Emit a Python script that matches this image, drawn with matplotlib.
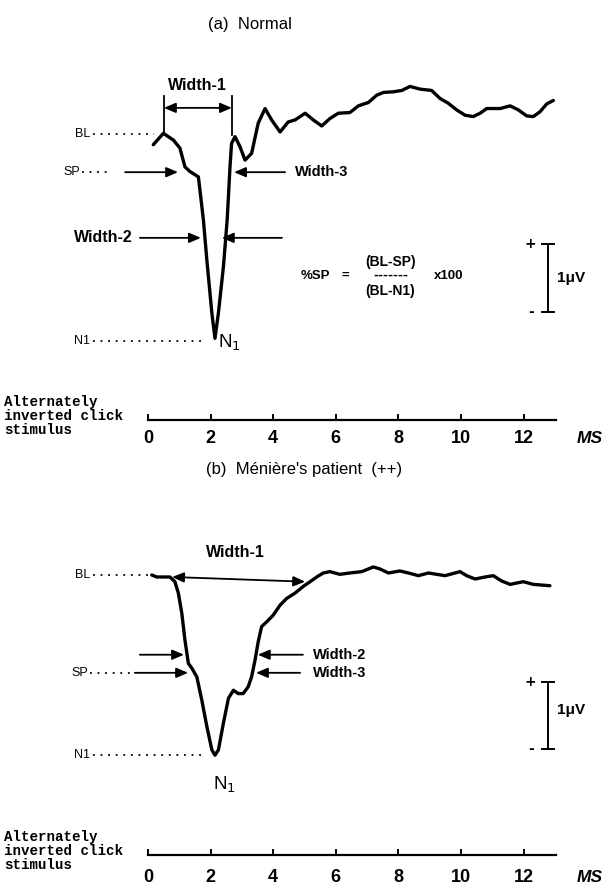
import matplotlib
matplotlib.use("Agg")
import matplotlib.pyplot as plt

# waveform (a) normal: time in ms, amplitude in uV relative to baseline
t_norm = [0.17, 0.49, 0.81, 1.02, 1.18, 1.34, 1.61, 1.66, 1.77, 1.88, 2.04, 2.14,
          2.25, 2.41, 2.53, 2.62, 2.67, 2.78, 2.94, 3.10, 3.31, 3.52, 3.74, 3.95,
          4.22, 4.48, 4.70, 5.02, 5.28, 5.55, 5.81, 6.08, 6.45, 6.72, 7.04, 7.31,
          7.52, 7.84, 8.11, 8.37, 8.69, 9.06, 9.33, 9.59, 9.86, 10.13, 10.39, 10.61,
          10.82, 11.25, 11.57, 11.83, 12.10, 12.31, 12.52, 12.74, 12.95]
v_norm = [-0.16, 0.01, -0.09, -0.21, -0.49, -0.56, -0.64, -0.84, -1.28, -1.88, -2.67, -3.05,
          -2.67, -1.98, -1.28, -0.49, -0.14, -0.04, -0.19, -0.39, -0.29, 0.16, 0.38, 0.21,
          0.03, 0.18, 0.21, 0.31, 0.21, 0.12, 0.23, 0.31, 0.32, 0.42, 0.47, 0.58,
          0.62, 0.63, 0.65, 0.71, 0.67, 0.65, 0.53, 0.46, 0.36, 0.28, 0.26, 0.31,
          0.38, 0.38, 0.42, 0.36, 0.27, 0.26, 0.33, 0.45, 0.50]

# waveform (b) Meniere's patient
t_men = [0.12, 0.28, 0.70, 0.86, 0.97, 1.08, 1.18, 1.29, 1.40, 1.56, 1.72, 1.88,
         2.04, 2.14, 2.25, 2.41, 2.57, 2.73, 2.88, 3.04, 3.20, 3.31, 3.42, 3.52,
         3.63, 3.79, 4.00, 4.22, 4.43, 4.70, 4.96, 5.18, 5.39, 5.60, 5.81, 6.13,
         6.45, 6.83, 7.20, 7.41, 7.68, 8.05, 8.32, 8.64, 8.96, 9.22, 9.49, 9.97,
         10.18, 10.45, 10.77, 11.03, 11.30, 11.57, 11.99, 12.31, 12.84]
v_men = [0.00, -0.03, -0.03, -0.10, -0.27, -0.57, -0.97, -1.32, -1.39, -1.52, -1.87, -2.26,
         -2.61, -2.69, -2.61, -2.21, -1.84, -1.72, -1.77, -1.77, -1.67, -1.52, -1.27, -1.00,
         -0.77, -0.70, -0.60, -0.45, -0.35, -0.27, -0.17, -0.10, -0.03, 0.03, 0.05, 0.01,
         0.03, 0.05, 0.12, 0.09, 0.03, 0.06, 0.03, -0.01, 0.03, 0.01, -0.01, 0.05,
         -0.01, -0.06, -0.03, -0.01, -0.09, -0.14, -0.10, -0.14, -0.16]

ticks = [0, 2, 4, 6, 8, 10, 12]
stim_text = "Alternately\ninverted click\nstimulus"

sans = ["Liberation Sans", "DejaVu Sans"]
narrow = ["Liberation Sans Narrow", "Liberation Sans", "DejaVu Sans"]
mono = ["Liberation Mono", "DejaVu Sans Mono"]

fig = plt.figure(figsize=(6.14, 8.86), dpi=100)
ax_a = fig.add_axes([0, 0.5, 1, 0.5])
ax_b = fig.add_axes([0, 0, 1, 0.5])
ax_a.set_xlim(-4.728, 14.888)
ax_a.set_ylim(-4.612, 2.0)
ax_b.set_xlim(-4.728, 14.888)
ax_b.set_ylim(-4.642, 1.970)
for ax in (ax_a, ax_b):
    ax.axis("off")

arrow = dict(arrowstyle="-|>,head_length=0.7,head_width=0.3", color="black", lw=1.3,
             shrinkA=0, shrinkB=0)
arrow2 = dict(arrowstyle="<|-|>,head_length=0.7,head_width=0.3", color="black", lw=1.3,
              shrinkA=0, shrinkB=0)


def dotted(ax, x0, x1, y):
    ax.plot([x0, x1], [y, y], color="black", lw=1.3, linestyle=(0, (1, 3.2)))


def level_label(ax, txt, x, y):
    ax.text(x, y, txt, fontsize=9, family=sans, ha="right", va="center")


def bold_label(ax, txt, x, y, size=11, ha="left"):
    ax.text(x, y, txt, fontsize=size, family=sans, weight="bold", ha=ha, va="center")


def scale_bar(ax, x, y_top, y_bot, y_mid):
    ax.plot([x, x], [y_top, y_bot], color="black", lw=1.4)
    ax.plot([x - 0.2, x + 0.2], [y_top, y_top], color="black", lw=1.4)
    ax.plot([x - 0.2, x + 0.2], [y_bot, y_bot], color="black", lw=1.4)
    ax.text(x - 0.55, y_top, "+", fontsize=10, weight="bold", ha="center", va="center")
    ax.text(x - 0.55, y_bot, "-", fontsize=10, weight="bold", ha="center", va="center")
    ax.text(x + 0.3, y_mid, "1\u03bcV", fontsize=11, family=narrow, weight="bold",
            ha="left", va="center")


def time_axis(ax, y, y_lab, y_text):
    ax.plot([0, 13.05], [y, y], color="black", lw=1.6)
    for tk in ticks:
        ax.plot([tk, tk], [y, y + 0.08], color="black", lw=1.4)
        ax.text(tk, y_lab, str(tk), fontsize=13, family=narrow, weight="bold",
                ha="center", va="center")
    ax.text(14.1, y_lab, "MS", fontsize=12.5, family=narrow, weight="bold",
            style="italic", ha="center", va="center")
    ax.text(-4.6, y_text, stim_text, fontsize=10.2, family=mono, weight="bold",
            ha="left", va="center", linespacing=1.0)


# ---------------- (a) Normal ----------------
ax = ax_a
ax.plot(t_norm, v_norm, color="black", lw=2.4, solid_capstyle="round",
        solid_joinstyle="round")
ax.text(3.25, 1.63, "(a)  Normal", fontsize=12, family=sans, ha="center", va="center")

bold_label(ax, "Width-1", 1.57, 0.72, size=11.5, ha="center")
ax.plot([0.51, 0.51], [0.57, 0.0], color="black", lw=1.3)
ax.plot([2.68, 2.68], [0.57, -0.02], color="black", lw=1.3)
ax.annotate("", xy=(2.68, 0.39), xytext=(0.51, 0.39), arrowprops=arrow2)

level_label(ax, "BL", -1.84, 0.0)
dotted(ax, -1.76, 0.2, 0.0)
level_label(ax, "SP", -2.17, -0.57)
dotted(ax, -2.1, -1.2, -0.57)
ax.annotate("", xy=(0.96, -0.57), xytext=(-0.73, -0.57), arrowprops=arrow)
ax.annotate("", xy=(2.75, -0.57), xytext=(4.38, -0.57), arrowprops=arrow)
bold_label(ax, "Width-3", 4.70, -0.57, size=10.5)

bold_label(ax, "Width-2", -2.36, -1.55, size=11.5)
ax.annotate("", xy=(1.69, -1.55), xytext=(-0.26, -1.55), arrowprops=arrow)
ax.annotate("", xy=(2.36, -1.55), xytext=(4.28, -1.55), arrowprops=arrow)

bold_label(ax, "%SP", 4.88, -2.12, size=9.5)
bold_label(ax, "=", 6.3, -2.12, size=9.5, ha="center")
bold_label(ax, "(BL-SP)", 7.75, -1.91, size=10, ha="center")
bold_label(ax, "-------", 7.75, -2.10, size=10.5, ha="center")
bold_label(ax, "(BL-N1)", 7.75, -2.35, size=10, ha="center")
bold_label(ax, "x100", 9.15, -2.12, size=9.5)

scale_bar(ax, 12.78, -1.64, -2.66, -2.15)

level_label(ax, "N1", -1.84, -3.09)
dotted(ax, -1.76, 1.82, -3.09)
ax.text(2.24, -3.12, "N$_1$", fontsize=13.5, family=narrow, ha="left", va="center")

time_axis(ax, -4.27, -4.54, -4.21)

# ---------------- (b) Meniere's patient ----------------
ax = ax_b
ax.plot(t_men, v_men, color="black", lw=2.4, solid_capstyle="round",
        solid_joinstyle="round")
ax.text(5.0, 1.57, "(b)  M\u00e9ni\u00e8re's patient  (++)", fontsize=12, family=sans,
        ha="center", va="center")

bold_label(ax, "Width-1", 2.8, 0.33, size=11.5, ha="center")
ax.annotate("", xy=(5.02, -0.10), xytext=(0.77, -0.03), arrowprops=arrow2)

level_label(ax, "BL", -1.84, 0.0)
dotted(ax, -1.76, 0.0, 0.0)

ax.annotate("", xy=(1.15, -1.19), xytext=(-0.26, -1.19), arrowprops=arrow)
ax.annotate("", xy=(3.51, -1.19), xytext=(4.95, -1.19), arrowprops=arrow)
bold_label(ax, "Width-2", 5.27, -1.19, size=10.5)

level_label(ax, "SP", -1.92, -1.46)
dotted(ax, -1.84, -0.42, -1.46)
ax.annotate("", xy=(1.28, -1.46), xytext=(-0.42, -1.46), arrowprops=arrow)
ax.annotate("", xy=(3.45, -1.46), xytext=(4.86, -1.46), arrowprops=arrow)
bold_label(ax, "Width-3", 5.27, -1.46, size=10.5)

scale_bar(ax, 12.78, -1.60, -2.60, -2.01)

level_label(ax, "N1", -1.84, -2.69)
dotted(ax, -1.76, 1.82, -2.69)
ax.text(2.45, -3.13, "N$_1$", fontsize=13.5, family=narrow, ha="center", va="center")

time_axis(ax, -4.18, -4.51, -4.12)

fig.savefig("out.png", dpi=100)
